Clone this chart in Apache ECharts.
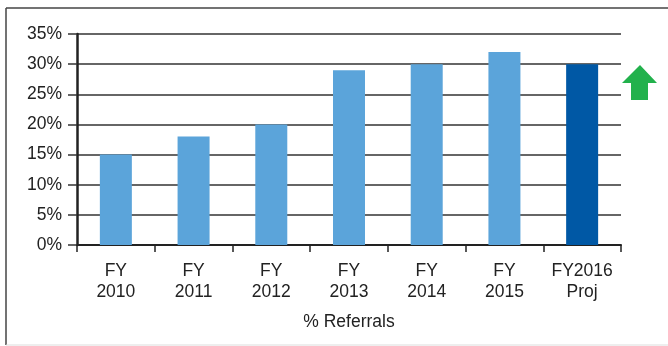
<!DOCTYPE html>
<html>
<head>
<meta charset="utf-8">
<script src="https://cdn.jsdelivr.net/npm/echarts@6/dist/echarts.min.js"></script>
<style>
  html, body { margin: 0; padding: 0; background: #fff; }
  #chart { width: 668px; height: 346px; }
</style>
</head>
<body>
<div id="chart"></div>
<script>
// Share of referrals by fiscal year
const categories = ['FY\n2010', 'FY\n2011', 'FY\n2012', 'FY\n2013', 'FY\n2014', 'FY\n2015', 'FY2016\nProj'];
const referralPct = [15, 18, 20, 29, 30, 32, 30];
const projectedIndex = 6;

const FONT = '"Liberation Sans", Arial, sans-serif';
const LIGHT_BLUE = '#5ba4da';
const DARK_BLUE = '#0058a5';

const chart = echarts.init(document.getElementById('chart'), null, { renderer: 'canvas' });

chart.setOption({
  animation: false,
  backgroundColor: '#ffffff',
  grid: { left: 77, right: 47, top: 34, bottom: 101, containLabel: false },
  xAxis: {
    type: 'category',
    data: categories,
    name: '% Referrals',
    nameLocation: 'middle',
    nameGap: 68,
    nameTextStyle: { fontFamily: FONT, fontSize: 17.5, color: '#222' },
    axisLine: { show: true, lineStyle: { color: '#222', width: 2 } },
    axisTick: { show: true, alignWithLabel: false, length: 7, lineStyle: { color: '#222', width: 1.5 } },
    axisLabel: { interval: 0, fontFamily: FONT, fontSize: 17.5, color: '#222', lineHeight: 21, margin: 16 },
    splitLine: { show: false }
  },
  yAxis: {
    type: 'value',
    min: 0,
    max: 35,
    interval: 5,
    axisLine: { show: true, lineStyle: { color: '#222', width: 2.5 } },
    axisTick: { show: true, length: 9, lineStyle: { color: '#333', width: 1.5 } },
    axisLabel: { formatter: '{value}%', fontFamily: FONT, fontSize: 17.5, color: '#222', margin: 15 },
    splitLine: { show: true, lineStyle: { color: '#333', width: 1.5 } }
  },
  series: [{
    type: 'bar',
    barWidth: 32,
    data: referralPct.map((v, i) => ({
      value: v,
      itemStyle: { color: i === projectedIndex ? DARK_BLUE : LIGHT_BLUE }
    })),
    z: 1
  }],
  graphic: [
    // frame around the chart
    { type: 'line', shape: { x1: 6, y1: 8, x2: 668, y2: 8 }, style: { stroke: '#444', lineWidth: 1.5 }, silent: true },
    { type: 'line', shape: { x1: 6, y1: 8, x2: 6, y2: 345 }, style: { stroke: '#444', lineWidth: 1.5 }, silent: true },
    { type: 'line', shape: { x1: 6, y1: 345, x2: 668, y2: 345 }, style: { stroke: '#ddd', lineWidth: 1 }, silent: true },
    // upward trend arrow
    {
      type: 'polygon',
      shape: { points: [[640, 65], [657, 83], [648, 83], [648, 100], [631, 100], [631, 83], [622, 83]] },
      style: { fill: '#22b14c' },
      silent: true
    }
  ]
});
</script>
</body>
</html>
